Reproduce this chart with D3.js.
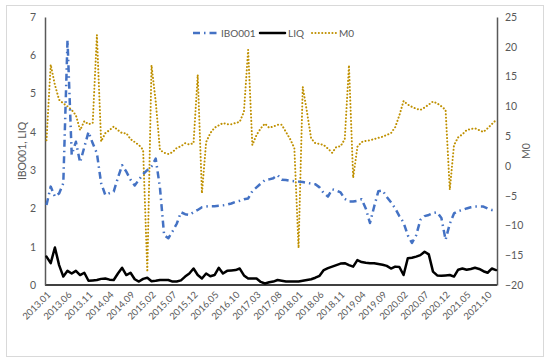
<!DOCTYPE html>
<html>
<head>
<meta charset="utf-8">
<script src="https://cdn.jsdelivr.net/npm/d3@7"></script>
<style>
  body { margin: 0; background: #fff; }
  text { font-family: Lato, "Open Sans", sans-serif; fill: #595959; }
</style>
</head>
<body>
<script>
// months 2013.01 .. 2021.12
var months = [];
for (var yr = 2013; yr <= 2021; yr++) {
  for (var mo = 1; mo <= 12; mo++) months.push(yr + '.' + (mo < 10 ? '0' + mo : mo));
}

var ibo001 = [2.09,2.57,2.31,2.39,2.66,6.4,3.4,3.74,3.2,3.6,4.0,3.7,3.44,2.66,2.35,2.4,2.44,2.8,3.13,2.96,
  2.75,2.6,2.75,2.9,3.0,3.1,3.3,2.55,1.3,1.22,1.4,1.6,1.9,1.85,1.83,1.9,1.96,2.03,2.05,2.06,
  2.06,2.07,2.08,2.1,2.13,2.17,2.2,2.24,2.26,2.45,2.55,2.65,2.74,2.76,2.79,2.87,2.75,2.74,2.72,2.71,
  2.7,2.69,2.67,2.65,2.63,2.55,2.4,2.31,2.5,2.47,2.42,2.25,2.18,2.18,2.2,2.24,2.0,1.62,2.05,2.45,
  2.47,2.3,2.16,2.0,1.8,1.63,1.3,1.1,1.3,1.7,1.8,1.83,1.88,1.9,1.75,1.18,1.6,1.87,1.93,1.96,
  2.0,2.03,2.05,2.05,2.05,2.0,1.96,1.96];

var liq = [0.74,0.57,0.98,0.52,0.22,0.37,0.30,0.37,0.26,0.32,0.11,0.12,0.13,0.16,0.17,0.14,0.13,0.30,0.45,0.26,
  0.32,0.15,0.09,0.16,0.19,0.10,0.11,0.13,0.13,0.13,0.09,0.09,0.12,0.22,0.30,0.43,0.26,0.17,0.30,0.23,
  0.26,0.45,0.30,0.37,0.38,0.39,0.43,0.25,0.17,0.17,0.17,0.08,0.04,0.07,0.09,0.13,0.11,0.09,0.09,0.09,
  0.09,0.11,0.13,0.15,0.19,0.24,0.39,0.44,0.48,0.52,0.56,0.57,0.52,0.48,0.65,0.60,0.58,0.57,0.57,0.55,
  0.53,0.50,0.43,0.48,0.47,0.26,0.70,0.71,0.74,0.78,0.87,0.80,0.35,0.25,0.24,0.25,0.26,0.22,0.40,0.43,
  0.40,0.42,0.45,0.42,0.36,0.32,0.43,0.39];

var m0 = [4.3,17.0,13.6,11.1,10.5,10.0,9.4,8.5,6.0,7.5,7.0,7.2,22.0,4.1,5.5,6.0,6.6,6.0,5.5,5.5,
  4.5,4.0,3.5,2.7,-17.8,16.9,10.8,2.7,2.2,2.0,2.3,3.0,3.3,3.8,3.6,3.8,15.3,-4.6,4.0,5.5,
  6.4,6.8,7.2,7.0,7.0,7.2,7.4,9.1,19.5,3.5,5.2,6.3,7.1,6.4,6.6,6.9,6.9,5.7,4.5,3.0,
  -13.8,13.3,9.1,4.6,3.8,3.7,3.5,2.9,2.2,3.2,3.3,4.5,16.9,-2.0,3.2,4.0,4.2,4.3,4.5,4.7,
  4.9,5.2,5.5,6.5,8.5,10.9,10.3,9.9,9.6,9.4,9.8,10.3,10.8,10.5,10.0,9.4,-4.0,3.5,4.8,5.3,
  6.0,6.2,6.3,6.0,5.7,6.3,7.0,7.7];

var leftTicks = [0,1,2,3,4,5,6,7];
var rightTicks = [-20,-15,-10,-5,0,5,10,15,20,25];
var seriesNames = ['IBO001','LIQ','M0'];

var W = 550, H = 363;
var svg = d3.select('body').append('svg').attr('width', W).attr('height', H);

// frame
svg.append('rect').attr('x', 6.5).attr('y', 5.5).attr('width', 537).attr('height', 351)
  .attr('fill', '#fff').attr('stroke', '#d9d9d9');

var pL = 45, pR = 497, pT = 17, pB = 285;
var xScale = d3.scalePoint().domain(months).range([46.5, 496]);
var yL = d3.scaleLinear().domain([0, 7]).range([pB, pT]);
var yR = d3.scaleLinear().domain([-20, 25]).range([pB, pT]);

// axes
var xAxis = d3.axisBottom(xScale).tickSize(0)
  .tickValues(months.filter(function(d, i) { return i % 5 === 0 && i <= 105; }));
var gx = svg.append('g').attr('transform', 'translate(0,' + pB + ')').call(xAxis);
gx.select('.domain').attr('d', 'M' + pL + ',0H' + pR).attr('stroke', '#000').attr('stroke-width', 1.5);
gx.selectAll('text').attr('font-size', 9.5).attr('text-anchor', 'end')
  .attr('transform', 'translate(2,8) rotate(-45)').attr('dy', '0.35em').attr('y', 0).attr('x', 0);

var gl = svg.append('g').attr('transform', 'translate(' + pL + ',0)')
  .call(d3.axisLeft(yL).tickValues(leftTicks).tickFormat(d3.format('d')).tickSize(0).tickPadding(9));
gl.select('.domain').attr('stroke', '#595959').attr('stroke-width', 1.5);
gl.selectAll('text').attr('font-size', 10.5);

var gr = svg.append('g').attr('transform', 'translate(' + pR + ',0)')
  .call(d3.axisRight(yR).tickValues(rightTicks).tickFormat(d3.format('d')).tickSize(0).tickPadding(8));
gr.select('.domain').attr('stroke', '#595959').attr('stroke-width', 1.5);
gr.selectAll('text').attr('font-size', 10.5);
svg.selectAll('.tick line').remove();

// axis titles
svg.append('text').attr('transform', 'translate(26,' + ((pT + pB) / 2) + ') rotate(-90)')
  .attr('text-anchor', 'middle').attr('font-size', 10.5).text('IBO001, LIQ');
svg.append('text').attr('transform', 'translate(530,' + ((pT + pB) / 2) + ') rotate(-90)')
  .attr('text-anchor', 'middle').attr('font-size', 10.5).text('M0');

// series styles
var styles = {
  IBO001: { color: '#4472C4', width: 2.5, dash: '7,4,1.5,4', cap: 'butt' },
  LIQ: { color: '#000000', width: 2.5, dash: null, cap: 'round' },
  M0: { color: '#BF9000', width: 2, dash: '0.1,3.3', cap: 'round' }
};

function drawLine(values, yScale, st) {
  var line = d3.line()
    .x(function(d, i) { return xScale(months[i]); })
    .y(function(d) { return yScale(d); });
  svg.append('path').datum(values).attr('d', line)
    .attr('fill', 'none').attr('stroke', st.color).attr('stroke-width', st.width)
    .attr('stroke-dasharray', st.dash).attr('stroke-linecap', st.cap)
    .attr('stroke-linejoin', 'round');
}

drawLine(m0, yR, styles.M0);
drawLine(ibo001, yL, styles.IBO001);
drawLine(liq, yL, styles.LIQ);

// legend
var legendPos = [{ x: 193, tx: 221 }, { x: 260, tx: 288 }, { x: 312, tx: 339 }];
seriesNames.forEach(function(name, i) {
  var st = styles[name], p = legendPos[i];
  svg.append('line').attr('x1', p.x).attr('x2', p.x + 25).attr('y1', 33).attr('y2', 33)
    .attr('stroke', st.color).attr('stroke-width', st.width)
    .attr('stroke-dasharray', st.dash).attr('stroke-linecap', st.cap);
  svg.append('text').attr('x', p.tx).attr('y', 33).attr('dy', '0.35em')
    .attr('font-size', 10).text(name);
});
</script>
</body>
</html>
